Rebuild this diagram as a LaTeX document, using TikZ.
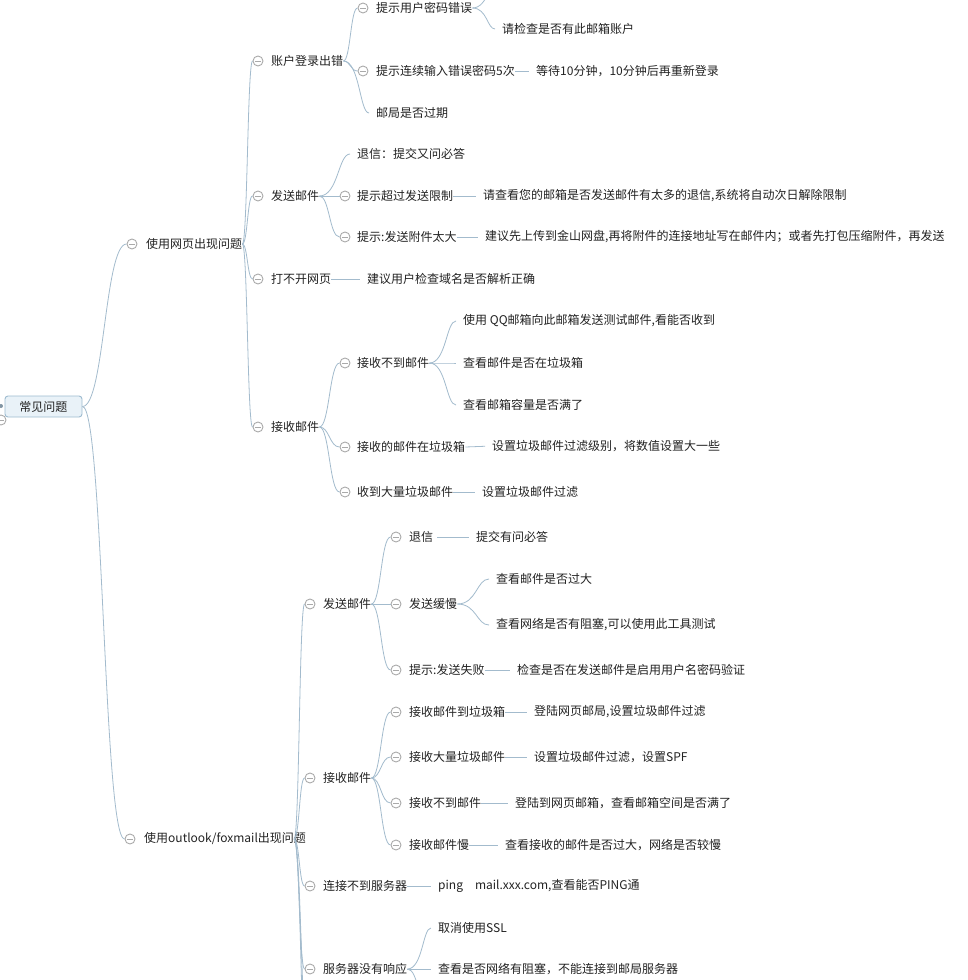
\documentclass[tikz,border=0pt]{standalone}
\usepackage{fontspec}
\setmainfont{Noto Sans CJK SC}
\usetikzlibrary{calc}
\definecolor{linkblue}{RGB}{163,187,205}
\definecolor{foldgray}{RGB}{170,170,170}
\definecolor{rootfill}{RGB}{233,242,248}
\definecolor{rootdraw}{RGB}{158,188,208}
\definecolor{txt}{RGB}{34,34,34}
\tikzset{
  topic/.style={anchor=west,inner sep=0pt,text=txt,font=\fontsize{12}{14}\selectfont},
  fold/.style={circle,draw=foldgray,fill=white,line width=0.9pt,minimum size=10pt,inner sep=0pt,
    path picture={\draw[foldgray,line width=0.9pt] ([xshift=-3pt]path picture bounding box.center) -- ([xshift=3pt]path picture bounding box.center);}},
  link/.style={draw=linkblue,line width=0.8pt},
  xcurve/.style={to path={.. controls ($(\tikztostart)!0.5!(\tikztotarget |- \tikztostart)$) and ($(\tikztotarget)!0.5!(\tikztostart |- \tikztotarget)$) .. (\tikztotarget)}},
  gap/.style={shorten >=7pt},
}
\begin{document}
\begin{tikzpicture}[x=1pt,y=-1pt]
  \fill[white] (0,0) rectangle (968,980);
  \useasboundingbox (0,0) rectangle (968,980);

  % root
  \node[rounded corners=3pt,draw=rootdraw,fill=rootfill,line width=0.9pt,minimum width=77pt,minimum height=21pt,inner sep=0pt,text=txt,font=\fontsize{12}{14}\selectfont] (root) at (43.5,406.5) {常见问题};
  \node[circle,fill=linkblue!80!black,minimum size=4pt,inner sep=0pt] (root-dot) at (1,406) {};
  \node[fold] (root-f) at (1,420) {};

  % level 1
  \node[fold] (w-f) at (132,244) {};
  \node[topic] (w) at (146,244) {使用网页出现问题};
  \node[fold] (o-f) at (130,839) {};
  \node[topic] (o) at (144,839) {使用outlook/foxmail出现问题};
  \draw[link] (root.east) to[xcurve] (w-f.west);
  \draw[link] (root.east) to[xcurve] (o-f.west);

  % web: level 2
  \node[fold] (w-acc-f) at (258,61) {};
  \node[topic] (w-acc) at (271,61) {账户登录出错};
  \node[fold] (w-snd-f) at (258,196) {};
  \node[topic] (w-snd) at (271,196) {发送邮件};
  \node[fold] (w-web-f) at (258,279) {};
  \node[topic] (w-web) at (271,279) {打不开网页};
  \node[fold] (w-rcv-f) at (258,427) {};
  \node[topic] (w-rcv) at (271,427) {接收邮件};
  \foreach \c in {w-acc-f,w-snd-f,w-web-f,w-rcv-f}
    \draw[link] (w.east) to[xcurve] (\c.west);

  % account
  \node[fold] (w-acc-1-f) at (363,8) {};
  \node[topic] (w-acc-1) at (376,8) {提示用户密码错误};
  \node[topic] (w-acc-1-1) at (502,29) {请检查是否有此邮箱账户};
  \coordinate (w-acc-1-0) at (505,-22);
  \node[fold] (w-acc-2-f) at (363,71) {};
  \node[topic] (w-acc-2) at (376,71) {提示连续输入错误密码5次};
  \node[topic] (w-acc-2-1) at (536,71) {等待10分钟，10分钟后再重新登录};
  \node[topic] (w-acc-3) at (376,113) {邮局是否过期};
  \draw[link] (w-acc.east) to[xcurve] (w-acc-1-f.west);
  \draw[link] (w-acc.east) to[xcurve] (w-acc-2-f.west);
  \draw[link,gap] (w-acc.east) to[xcurve] (w-acc-3.west);
  \draw[link,gap] (w-acc-1.east) to[xcurve] (w-acc-1-1.west);
  \draw[link] (w-acc-1.east) to[xcurve] (w-acc-1-0);
  \draw[link,gap] (w-acc-2.east) -- (w-acc-2-1.west);

  % send
  \node[topic] (w-snd-1) at (357,154) {退信：提交又问必答};
  \node[fold] (w-snd-2-f) at (345,196) {};
  \node[topic] (w-snd-2) at (357,196) {提示超过发送限制};
  \node[topic] (w-snd-2-1) at (483,196) {请查看您的邮箱是否发送邮件有太多的退信,系统将自动次日解除限制};
  \node[fold] (w-snd-3-f) at (345,237) {};
  \node[topic] (w-snd-3) at (357,237) {提示:发送附件太大};
  \node[topic] (w-snd-3-1) at (485,237) {建议先上传到金山网盘,再将附件的连接地址写在邮件内；或者先打包压缩附件，再发送};
  \draw[link,gap] (w-snd.east) to[xcurve] (w-snd-1.west);
  \draw[link] (w-snd.east) to[xcurve] (w-snd-2-f.west);
  \draw[link] (w-snd.east) to[xcurve] (w-snd-3-f.west);
  \draw[link,gap] (w-snd-2.east) -- (w-snd-2-1.west);
  \draw[link,gap] (w-snd-3.east) -- (w-snd-3-1.west);

  % web page
  \node[topic] (w-web-1) at (367,279) {建议用户检查域名是否解析正确};
  \draw[link,gap] (w-web.east) -- (w-web-1.west);

  % receive
  \node[fold] (w-rcv-1-f) at (345,363) {};
  \node[topic] (w-rcv-1) at (357,363) {接收不到邮件};
  \node[topic] (w-rcv-1-1) at (463,321) {使用 QQ邮箱向此邮箱发送测试邮件,看能否收到};
  \node[topic] (w-rcv-1-2) at (463,363) {查看邮件是否在垃圾箱};
  \node[topic] (w-rcv-1-3) at (463,405) {查看邮箱容量是否满了};
  \node[fold] (w-rcv-2-f) at (345,447) {};
  \node[topic] (w-rcv-2) at (357,447) {接收的邮件在垃圾箱};
  \node[topic] (w-rcv-2-1) at (492,446) {设置垃圾邮件过滤级别，将数值设置大一些};
  \node[fold] (w-rcv-3-f) at (345,492) {};
  \node[topic] (w-rcv-3) at (357,492) {收到大量垃圾邮件};
  \node[topic] (w-rcv-3-1) at (482,492) {设置垃圾邮件过滤};
  \foreach \c in {w-rcv-1-f,w-rcv-2-f,w-rcv-3-f}
    \draw[link] (w-rcv.east) to[xcurve] (\c.west);
  \foreach \c in {w-rcv-1-1,w-rcv-1-2,w-rcv-1-3}
    \draw[link,gap] (w-rcv-1.east) to[xcurve] (\c.west);
  \draw[link,gap] (w-rcv-2.east) -- (w-rcv-2-1.west);
  \draw[link,gap] (w-rcv-3.east) -- (w-rcv-3-1.west);

  % outlook: level 2
  \coordinate (o-start) at ([xshift=-12pt]o.east);
  \node[fold] (o-snd-f) at (310,604) {};
  \node[topic] (o-snd) at (323,604) {发送邮件};
  \node[fold] (o-rcv-f) at (310,778) {};
  \node[topic] (o-rcv) at (323,778) {接收邮件};
  \node[fold] (o-con-f) at (310,886) {};
  \node[topic] (o-con) at (323,886) {连接不到服务器};
  \node[fold] (o-srv-f) at (310,969) {};
  \node[topic] (o-srv) at (323,969) {服务器没有响应};
  \coordinate (o-more-1) at (308,1040);
  \coordinate (o-more-2) at (308,1090);
  \foreach \c in {o-snd-f,o-rcv-f,o-con-f,o-srv-f}
    \draw[link] (o-start) to[xcurve] (\c.west);
  \draw[link] (o-start) to[xcurve] (o-more-1);
  \draw[link] (o-start) to[xcurve] (o-more-2);

  % outlook send
  \node[fold] (o-snd-1-f) at (396,537) {};
  \node[topic] (o-snd-1) at (409,537) {退信};
  \node[topic] (o-snd-1-1) at (476,537) {提交有问必答};
  \node[fold] (o-snd-2-f) at (396,604) {};
  \node[topic] (o-snd-2) at (409,604) {发送缓慢};
  \node[topic] (o-snd-2-1) at (496,579) {查看邮件是否过大};
  \node[topic] (o-snd-2-2) at (496,625) {查看网络是否有阻塞,可以使用此工具测试};
  \node[fold] (o-snd-3-f) at (396,670) {};
  \node[topic] (o-snd-3) at (409,670) {提示:发送失败};
  \node[topic] (o-snd-3-1) at (517,670) {检查是否在发送邮件是启用用户名密码验证};
  \foreach \c in {o-snd-1-f,o-snd-2-f,o-snd-3-f}
    \draw[link] (o-snd.east) to[xcurve] (\c.west);
  \draw[link,gap] ([xshift=4pt]o-snd-1.east) -- (o-snd-1-1.west);
  \draw[link,gap] (o-snd-2.east) to[xcurve] (o-snd-2-1.west);
  \draw[link,gap] (o-snd-2.east) to[xcurve] (o-snd-2-2.west);
  \draw[link,gap] (o-snd-3.east) -- (o-snd-3-1.west);

  % outlook receive
  \node[fold] (o-rcv-1-f) at (396,712) {};
  \node[topic] (o-rcv-1) at (409,712) {接收邮件到垃圾箱};
  \node[topic] (o-rcv-1-1) at (534,712) {登陆网页邮局,设置垃圾邮件过滤};
  \node[fold] (o-rcv-2-f) at (396,757) {};
  \node[topic] (o-rcv-2) at (409,757) {接收大量垃圾邮件};
  \node[topic] (o-rcv-2-1) at (534,757) {设置垃圾邮件过滤，设置SPF};
  \node[fold] (o-rcv-3-f) at (396,803) {};
  \node[topic] (o-rcv-3) at (409,803) {接收不到邮件};
  \node[topic] (o-rcv-3-1) at (515,803) {登陆到网页邮箱，查看邮箱空间是否满了};
  \node[fold] (o-rcv-4-f) at (396,845) {};
  \node[topic] (o-rcv-4) at (409,845) {接收邮件慢};
  \node[topic] (o-rcv-4-1) at (505,845) {查看接收的邮件是否过大，网络是否较慢};
  \foreach \i in {1,2,3,4} {
    \draw[link] (o-rcv.east) to[xcurve] (o-rcv-\i-f.west);
    \draw[link,gap] (o-rcv-\i.east) -- (o-rcv-\i-1.west);
  }

  % server
  \node[topic] (o-con-1) at (438,886) {ping\hspace{12pt}mail.xxx.com,查看能否PING通};
  \draw[link,gap] (o-con.east) -- (o-con-1.west);
  \node[topic] (o-srv-1) at (438,928) {取消使用SSL};
  \node[topic] (o-srv-2) at (438,969) {查看是否网络有阻塞，不能连接到邮局服务器};
  \coordinate (o-srv-3) at (430,1010);
  \draw[link,gap] (o-srv.east) to[xcurve] (o-srv-1.west);
  \draw[link,gap] (o-srv.east) -- (o-srv-2.west);
  \draw[link] (o-srv.east) to[xcurve] (o-srv-3);
\end{tikzpicture}
\end{document}
